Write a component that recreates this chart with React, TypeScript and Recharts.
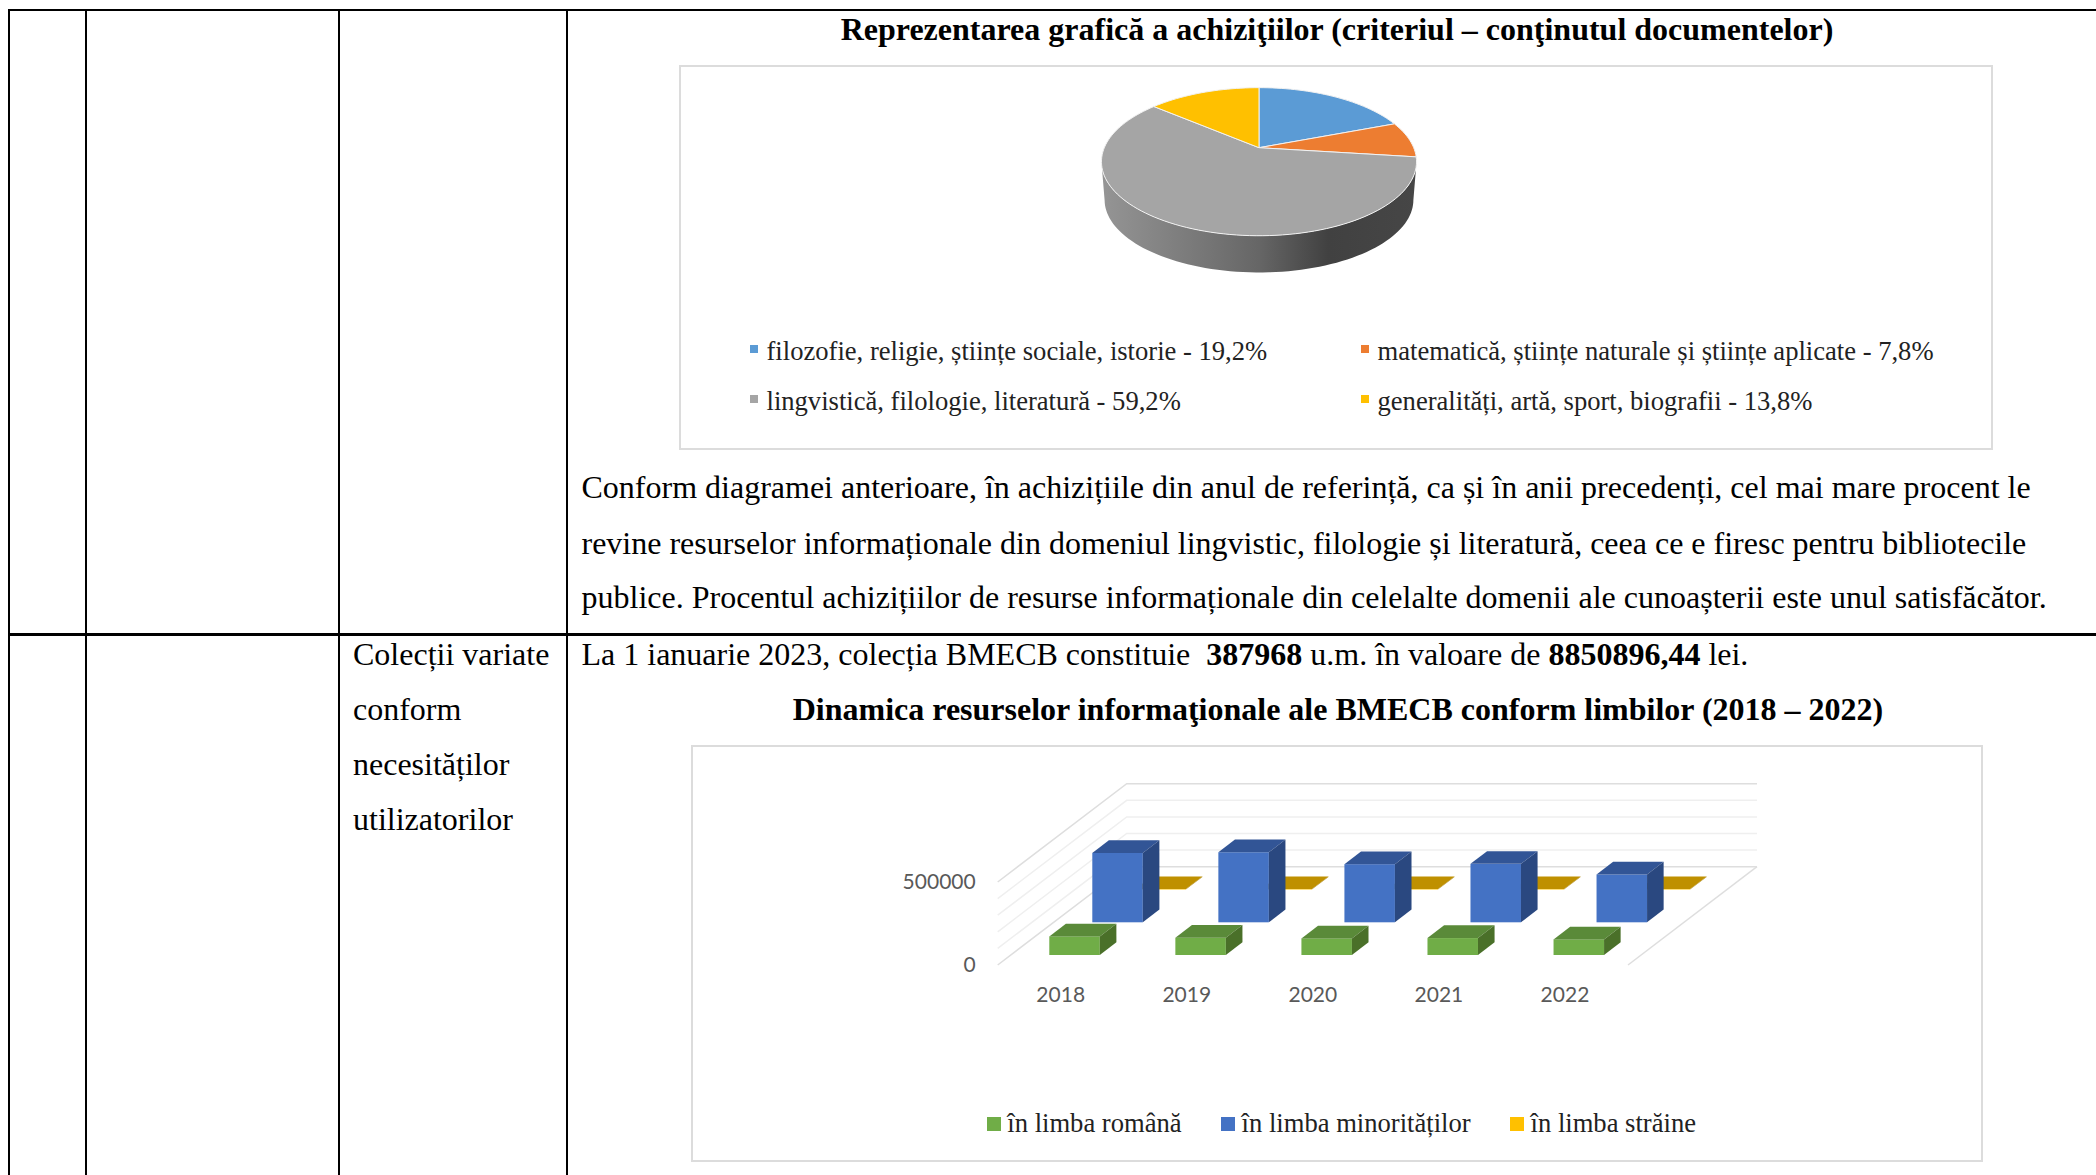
import {
  Bar,
  BarChart,
  CartesianGrid,
  Legend,
  Pie,
  PieChart,
  XAxis,
  YAxis,
} from "recharts";

const SERIF = '"Liberation Serif", serif';

// pie: acquisitions by content
const pieNames = [
  "filozofie, religie, științe sociale, istorie - 19,2%",
  "matematică, științe naturale și științe aplicate - 7,8%",
  "lingvistică, filologie, literatură - 59,2%",
  "generalități, artă, sport, biografii - 13,8%",
];
const pieValues = [19.2, 7.8, 59.2, 13.8];
const pieColors = ["#5b9bd5", "#ed7d31", "#a5a5a5", "#ffc000"];

// bars: resources by language
const years = ["2018", "2019", "2020", "2021", "2022"];
const romana = [112000, 104000, 100000, 102000, 94000];
const minoritati = [418000, 422000, 350000, 352000, 288000];
const straine = [3000, 3000, 3000, 3000, 3000];
const yTicks = [0, 100000, 200000, 300000, 400000, 500000];

const pieData = pieNames.map((name, i) => ({ name, value: pieValues[i], fill: pieColors[i] }));
const barData = years.map((year, i) => ({
  year,
  romana: romana[i],
  minoritati: minoritati[i],
  straine: straine[i],
}));

// projective tilt of the pie disc
const TILT_Y = 0.4615;
const TILT_K = 0.189;
const WALL = 38.5;

function rimPoint(cx: number, cy: number, r: number, deg: number, scale = 1, dy = 0) {
  const a = (deg * Math.PI) / 180;
  const u = Math.cos(a);
  const v = -Math.sin(a);
  const w = 1 - TILT_K * v;
  return [cx + (scale * r * u) / w, cy + dy + (scale * r * TILT_Y * v) / w];
}

function toPath(points: number[][]) {
  return points.map((p, i) => `${i ? "L" : "M"}${p[0].toFixed(2)} ${p[1].toFixed(2)}`).join(" ") + " Z";
}

function PieSlice(props: any) {
  const { cx, cy, outerRadius: r, startAngle, endAngle, fill } = props;
  const rim: number[][] = [];
  const steps = Math.ceil(Math.abs(endAngle - startAngle) / 2);
  for (let i = 0; i <= steps; i++) {
    rim.push(rimPoint(cx, cy, r, startAngle + ((endAngle - startAngle) * i) / steps));
  }
  let wall = null;
  // the big slice holds the whole front of the disc, so it carries the side wall
  if (startAngle > -20 && endAngle < -180) {
    const from = (-Math.asin(TILT_K) * 180) / Math.PI;
    const to = -180 - from;
    const top: number[][] = [];
    const low: number[][] = [];
    for (let d = from; d >= to; d -= 2) {
      top.push(rimPoint(cx, cy, r, d));
      low.unshift(rimPoint(cx, cy, r, d, 0.98, WALL));
    }
    wall = <path d={toPath([...top, ...low])} fill="url(#pieWall)" />;
  }
  return (
    <g>
      {wall}
      <path d={toPath([[cx, cy], ...rim])} fill={fill} stroke="#f2f2f2" strokeWidth={1} />
    </g>
  );
}

function PieLegend({ payload }: any) {
  return (
    <div
      style={{
        display: "grid",
        gridTemplateColumns: "611px auto",
        gridAutoRows: "50px",
        paddingLeft: 70.5,
        fontFamily: SERIF,
        fontSize: 26.6,
        color: "#222",
        whiteSpace: "nowrap",
      }}
    >
      {payload.map((p: any) => (
        <div key={p.value} style={{ display: "flex", alignItems: "center" }}>
          <span style={{ width: 8, height: 8, background: p.color, marginRight: 9, marginTop: -5 }} />
          {p.value}
        </div>
      ))}
    </div>
  );
}

function BarLegend({ payload }: any) {
  return (
    <div
      style={{
        display: "flex",
        paddingLeft: 295.8,
        fontFamily: SERIF,
        fontSize: 26.6,
        color: "#222",
        whiteSpace: "nowrap",
      }}
    >
      {[...payload].reverse().map((p: any) => (
        <div key={p.value} style={{ display: "flex", alignItems: "center", marginRight: 39.5 }}>
          <span style={{ width: 14, height: 14, background: p.color, marginRight: 6.5 }} />
          {p.value}
        </div>
      ))}
    </div>
  );
}

// oblique box, pushed back along the floor by its row
function Box3D(props: any) {
  const { x, y, width, height, fill, row, topFill, sideFill } = props;
  const left = x + 13.6 + row * 43;
  const bottom = y + height - 10 - row * 32.7;
  const top = bottom - height;
  const right = left + width;
  const dx = 16.6;
  const dy = 12.7;
  return (
    <g>
      <rect x={left} y={top} width={width} height={height} fill={fill} />
      <path
        d={`M${left} ${top} L${left + dx} ${top - dy} L${right + dx} ${top - dy} L${right} ${top} Z`}
        fill={topFill}
      />
      <path
        d={`M${right} ${top} L${right + dx} ${top - dy} L${right + dx} ${bottom - dy} L${right} ${bottom} Z`}
        fill={sideFill}
      />
    </g>
  );
}

const FLOOR_DX = 129;
const FLOOR_DY = 98.3;
const BAR_W = 1292;
const BAR_H = 417;
const PLOT_TOP = 137;
const PLOT_BOTTOM = 220;

// grid levels run along the side wall, then along the back wall
function WallLine(props: any) {
  const { x1, y1, x2 } = props;
  const isFloor = Math.abs(y1 - PLOT_BOTTOM) < 1;
  const isTop = Math.abs(y1 - PLOT_TOP) < 1;
  const backY = y1 - FLOOR_DY;
  return (
    <g fill="none" stroke={isFloor || isTop ? "#dedede" : "#efefef"} strokeWidth={1.5}>
      <polyline points={`${x1},${y1} ${x1 + FLOOR_DX},${backY} ${x2 + FLOOR_DX},${backY}`} />
      {isFloor && <polyline points={`${x2},${y1} ${x2 + FLOOR_DX},${backY}`} />}
    </g>
  );
}

function Txt({ x, y, size = 32, center, children }: any) {
  return (
    <div
      style={{
        position: "absolute",
        left: x,
        top: y - 25,
        lineHeight: "50px",
        fontSize: size,
        fontFamily: SERIF,
        color: "#000",
        whiteSpace: "pre",
        transform: center ? "translateX(-50%)" : undefined,
      }}
    >
      {children}
    </div>
  );
}

function Rule({ x, y, w, h }: any) {
  return <div style={{ position: "absolute", left: x, top: y, width: w, height: h, background: "#000" }} />;
}

export default function App() {
  return (
    <div style={{ position: "absolute", left: 0, top: 0, width: 2096, height: 1175, overflow: "hidden", background: "#fff" }}>
      <Rule x={8} y={9} w={2088} h={2} />
      <Rule x={8} y={633} w={2088} h={3} />
      <Rule x={8} y={9} w={2} h={1166} />
      <Rule x={85} y={9} w={2} h={1166} />
      <Rule x={338} y={9} w={2} h={1166} />
      <Rule x={566} y={9} w={2} h={1166} />

      <Txt x={1337} y={29} center>
        <b>Reprezentarea grafică a achiziţiilor (criteriul – conţinutul documentelor)</b>
      </Txt>

      <div style={{ position: "absolute", left: 679, top: 65, width: 1314, height: 385, boxShadow: "inset 0 0 0 2px #dcdcdc" }}>
        <PieChart width={1314} height={385} margin={{ top: 0, right: 0, bottom: 0, left: 0 }}>
          <defs>
            <linearGradient id="pieWall" x1="0" y1="0" x2="1" y2="0">
              <stop offset="0%" stopColor="#959595" />
              <stop offset="50%" stopColor="#666666" />
              <stop offset="72%" stopColor="#414141" />
              <stop offset="100%" stopColor="#464646" />
            </linearGradient>
          </defs>
          <Pie
            data={pieData}
            dataKey="value"
            nameKey="name"
            cx={580}
            cy={82.7}
            outerRadius={154.7}
            startAngle={90}
            endAngle={-270}
            stroke="none"
            shape={PieSlice}
            isAnimationActive={false}
          />
          <Legend
            layout="horizontal"
            verticalAlign="middle"
            itemSorter={null}
            content={<PieLegend />}
            wrapperStyle={{ left: 0, top: 261, width: 1314 }}
          />
        </PieChart>
      </div>

      <Txt x={581.5} y={486.5}>Conform diagramei anterioare, în achizițiile din anul de referință, ca și în anii precedenți, cel mai mare procent le</Txt>
      <Txt x={581.5} y={543}>revine resurselor informaționale din domeniul lingvistic, filologie și literatură, ceea ce e firesc pentru bibliotecile</Txt>
      <Txt x={581.5} y={597}>publice. Procentul achizițiilor de resurse informaționale din celelalte domenii ale cunoașterii este unul satisfăcător.</Txt>
      <Txt x={581.5} y={654}>
        {"La 1 ianuarie 2023, colecția BMECB constituie  "}
        <b>387968</b>
        {" u.m. în valoare de "}
        <b>8850896,44</b>
        {" lei."}
      </Txt>
      <Txt x={353} y={654}>Colecții variate</Txt>
      <Txt x={353} y={709}>conform</Txt>
      <Txt x={353} y={764}>necesităților</Txt>
      <Txt x={353} y={819}>utilizatorilor</Txt>

      <Txt x={1338} y={709} center>
        <b>Dinamica resurselor informaţionale ale BMECB conform limbilor (2018 – 2022)</b>
      </Txt>

      <div style={{ position: "absolute", left: 691, top: 745, width: BAR_W, height: BAR_H, boxShadow: "inset 0 0 0 2px #dcdcdc" }}>
        <BarChart
          width={BAR_W}
          height={BAR_H}
          data={barData}
          barSize={50.5}
          barGap={-50.5}
          margin={{ top: PLOT_TOP, right: 355, bottom: 157, left: 246.7 }}
        >
          <CartesianGrid vertical={false} horizontal={(p: any) => <WallLine key={p.key} {...p} />} />
          <XAxis
            dataKey="year"
            height={40}
            axisLine={false}
            tickLine={false}
            tickMargin={16}
            interval={0}
            tick={{ fill: "#595959", fontSize: 21, fontFamily: "Lato" }}
          />
          <YAxis
            width={60}
            domain={[0, 500000]}
            ticks={yTicks}
            interval={0}
            axisLine={false}
            tickLine={false}
            tickMargin={16}
            tickFormatter={(v: number) => (v === 0 || v === 500000 ? String(v) : "")}
            tick={{ fill: "#595959", fontSize: 21, fontFamily: "Lato" }}
          />
          <Bar
            dataKey="straine"
            name="în limba străine"
            fill="#ffc000"
            isAnimationActive={false}
            shape={(p: any) => <Box3D {...p} row={2} topFill="#bf9000" sideFill="#a67d00" />}
          />
          <Bar
            dataKey="minoritati"
            name="în limba minorităților"
            fill="#4472c4"
            isAnimationActive={false}
            shape={(p: any) => <Box3D {...p} row={1} topFill="#325596" sideFill="#2a4880" />}
          />
          <Bar
            dataKey="romana"
            name="în limba română"
            fill="#70ad47"
            isAnimationActive={false}
            shape={(p: any) => <Box3D {...p} row={0} topFill="#5a8a39" sideFill="#4a7029" />}
          />
          <Legend
            layout="horizontal"
            verticalAlign="middle"
            itemSorter={null}
            content={<BarLegend />}
            wrapperStyle={{ left: 0, top: 363, width: BAR_W }}
          />
        </BarChart>
      </div>
    </div>
  );
}
